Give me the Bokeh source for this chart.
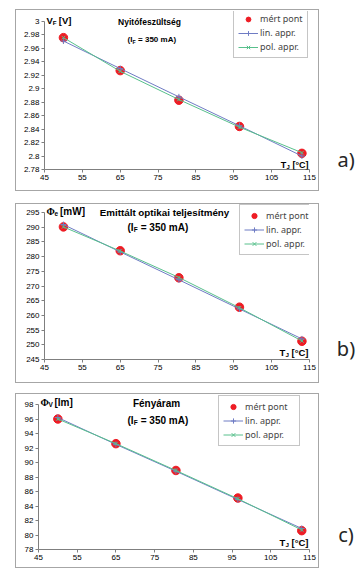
from bokeh.plotting import figure
from bokeh.layouts import column, row
from bokeh.models import FixedTicker, Legend, LegendItem, Label, Spacer, Range1d
from bokeh.embed import file_html
from bokeh.resources import INLINE

# ---------------- data ----------------
temp = [50, 65, 80.5, 96.5, 113]

vf_meas = [2.976, 2.927, 2.883, 2.844, 2.804]
vf_lin = [2.971, 2.930, 2.888, 2.845, 2.800]
vf_pol = [2.976, 2.926, 2.884, 2.843, 2.805]

pe_meas = [290.1, 282.0, 272.8, 262.8, 251.2]
pe_lin = [290.9, 281.6, 272.1, 262.2, 252.0]
pe_pol = [290.1, 281.9, 272.9, 262.6, 251.3]

pv_meas = [96.0, 92.6, 88.9, 85.1, 80.6]
pv_lin = [96.2, 92.5, 88.8, 84.9, 80.9]
pv_pol = [96.0, 92.6, 88.9, 85.0, 80.7]

x_ticks = [45, 55, 65, 75, 85, 95, 105, 115]
vf_ticks = [2.78, 2.80, 2.82, 2.84, 2.86, 2.88, 2.90, 2.92, 2.94, 2.96, 2.98, 3.00]
vf_tick_labels = ["2.78", "2.8", "2.82", "2.84", "2.86", "2.88", "2.9", "2.92", "2.94", "2.96", "2.98", "3"]
pe_ticks = [245, 250, 255, 260, 265, 270, 275, 280, 285, 290, 295]
pe_tick_labels = [str(t) for t in pe_ticks]
pv_ticks = [78, 80, 82, 84, 86, 88, 90, 92, 94, 96, 98]
pv_tick_labels = [str(t) for t in pv_ticks]

titles = ["Nyitófeszültség", "Emittált optikai teljesítmény", "Fényáram"]
subtitle_parts = ["(I", "F", "= 350 mA)"]
ylabel_parts = [("V", "F", "[V]"), ("Φ", "e", "[mW]"), ("Φ", "V", "[lm]")]
xlabel_parts = ("T", "J", "[°C]")
legend_labels = ["mért pont", "lin. appr.", "pol. appr."]
panel_tags = ["a)", "b)", "c)"]

RED = "#ee1c24"
BLUE = "#6f7cc4"
GREEN = "#58c08c"
AXIS = "#7f7f7f"
FONT = "Liberation Sans"


def lab(p, x, y, text, xo, yo, size, bold=True, align="left", font=FONT, color="#000000"):
    p.add_layout(Label(x=x, y=y, x_offset=xo, y_offset=yo, text=text,
                       text_font=font, text_font_size=f"{size}px",
                       text_font_style="bold" if bold else "normal",
                       text_align=align, text_baseline="middle", text_color=color))


def panel(meas, lin, pol, yticks, ylabels, width, height, mb, cfg):
    y0, y1 = yticks[0], yticks[-1]
    frame_h = height - mb[2] - mb[3]
    pad_px = cfg["pad"]
    pad = (y1 - y0) * pad_px / (frame_h - pad_px)
    p = figure(width=width, height=height, output_backend="svg", toolbar_location=None,
               x_range=Range1d(x_ticks[0], x_ticks[-1]), y_range=Range1d(y0, y1 + pad),
               min_border_left=mb[0], min_border_right=mb[1],
               min_border_top=mb[2], min_border_bottom=mb[3],
               background_fill_color="white", border_fill_color="white",
               styles={"border": "1px solid #a6a6a6"})
    p.outline_line_color = None
    p.grid.visible = False
    for ax in (p.xaxis[0], p.yaxis[0]):
        ax.axis_line_color = AXIS
        ax.major_tick_line_color = AXIS
        ax.minor_tick_line_color = None
        ax.major_tick_in = 0
        ax.major_tick_out = 3
        ax.major_label_text_font = FONT
        ax.major_label_text_font_size = "8px"
        ax.major_label_text_color = "#000000"
        ax.major_label_standoff = 2
    p.yaxis.bounds = (y0, y1)
    p.xaxis.ticker = FixedTicker(ticks=x_ticks)
    p.yaxis.ticker = FixedTicker(ticks=yticks)
    p.yaxis.major_label_overrides = {t: l for t, l in zip(yticks, ylabels)}

    r_meas = p.scatter(temp, meas, marker="circle", size=8.5, color=RED)
    r_lin_l = p.line(temp, lin, line_color=BLUE, line_width=1)
    r_lin_m = p.scatter(temp, lin, marker="cross", size=6, line_color=BLUE, line_width=1)
    r_pol_l = p.line(temp, pol, line_color=GREEN, line_width=1)
    r_pol_m = p.scatter(temp, pol, marker="x", size=5, line_color=GREEN, line_width=1)

    leg = Legend(items=[LegendItem(label=legend_labels[0], renderers=[r_meas]),
                        LegendItem(label=legend_labels[1], renderers=[r_lin_l, r_lin_m]),
                        LegendItem(label=legend_labels[2], renderers=[r_pol_l, r_pol_m])],
                 location=cfg["leg_loc"], label_width=cfg["leg_lw"],
                 glyph_width=20, glyph_height=cfg["leg_gh"], label_height=cfg["leg_gh"],
                 padding=4, spacing=1, margin=0, label_standoff=2,
                 label_text_font="Noto Sans", label_text_font_size="9px",
                 border_line_color="#8c8c8c", border_line_width=1,
                 background_fill_color="white", background_fill_alpha=1.0)
    p.add_layout(leg, "center")

    xs = x_ticks[0]
    xe = x_ticks[-1]
    # title
    ts = cfg["ts"]
    lab(p, xs, y1, cfg["title"], cfg["tx"], cfg["ty"], ts, align="center")
    sx, sy = cfg["sx"], cfg["sy"]
    ss = cfg["ss"]
    lab(p, xs, y1, subtitle_parts[0], sx, sy, ss)
    lab(p, xs, y1, subtitle_parts[1], sx + 0.62 * ss, sy - 2, round(ss * 0.65, 1))
    lab(p, xs, y1, subtitle_parts[2], sx + 0.62 * ss + 0.42 * ss + 0.28 * ss, sy, ss)
    # y label
    a, b, c = cfg["ylab"]
    ls = cfg["ls"]
    lab(p, xs, y1, a, 2, cfg["ly"], ls, font=cfg["lfont"])
    lab(p, xs, y1, b, 2 + cfg["lw1"], cfg["ly"] - 2, round(ls * 0.65, 1))
    lab(p, xs, y1, c, 2 + cfg["lw1"] + cfg["lw2"], cfg["ly"], ls)
    # x label
    xls = cfg["xls"]
    w_rest = 1.79 * xls
    w_sub = 0.556 * 0.65 * xls
    lab(p, xe, y0, xlabel_parts[2], -1, cfg["xly"], xls, align="right")
    lab(p, xe, y0, xlabel_parts[1], -1 - w_rest - 2.5, cfg["xly"] - 2, round(xls * 0.65, 1), align="right")
    lab(p, xe, y0, xlabel_parts[0], -1 - w_rest - 2.5 - w_sub - 0.3, cfg["xly"], xls, align="right")
    return p


def tag(text, height, yfrac):
    q = figure(width=39, height=height, output_backend="svg", toolbar_location=None,
               x_range=Range1d(0, 1), y_range=Range1d(0, 1),
               x_axis_type=None, y_axis_type=None,
               min_border=0, border_fill_color="white", background_fill_color="white")
    q.grid.visible = False
    q.outline_line_color = None
    q.add_layout(Label(x=0.68, y=yfrac, text=text, text_font="Noto Sans",
                       text_font_size="20px", text_color="#262626",
                       text_align="center", text_baseline="middle"))
    return q


pa = panel(vf_meas, vf_lin, vf_pol, vf_ticks, vf_tick_labels, 304, 182, (28, 11, 1, 23),
           dict(pad=10, title=titles[0], ts=8.5, tx=105, ty=0, sx=83, sy=-18, ss=8,
                ylab=ylabel_parts[0], ls=9.5, lfont=FONT, lw1=6.3, lw2=6.0, ly=1,
                xls=9, xly=5, leg_loc=(189, 111), leg_lw=30, leg_gh=12))
pb = panel(pe_meas, pe_lin, pe_pol, pe_ticks, pe_tick_labels, 304, 180, (28, 11, 0, 25),
           dict(pad=8, title=titles[1], ts=9.8, tx=120, ty=0, sx=83, sy=-15, ss=10,
                ylab=ylabel_parts[1], ls=10, lfont="Liberation Serif", lw1=8, lw2=5.5, ly=1,
                xls=9.5, xly=7, leg_loc=(195, 104), leg_lw=30, leg_gh=13))
pc = panel(pv_meas, pv_lin, pv_pol, pv_ticks, pv_tick_labels, 304, 175, (22, 11, 0, 20),
           dict(pad=10, title=titles[2], ts=10, tx=118, ty=1, sx=89, sy=-16, ss=10,
                ylab=ylabel_parts[2], ls=10, lfont="Liberation Serif", lw1=8, lw2=6.0, ly=2,
                xls=9.5, xly=7, leg_loc=(180, 103), leg_lw=50, leg_gh=13))

layout = column(
    Spacer(height=9),
    row(Spacer(width=15), pa, tag(panel_tags[0], 184, 0.07)),
    Spacer(height=10),
    row(Spacer(width=15), pb, tag(panel_tags[1], 182, 0.075)),
    Spacer(height=8),
    row(Spacer(width=15), pc, tag(panel_tags[2], 177, 0.10)),
)

with open("out.html", "w") as f:
    f.write(file_html(layout, INLINE))
